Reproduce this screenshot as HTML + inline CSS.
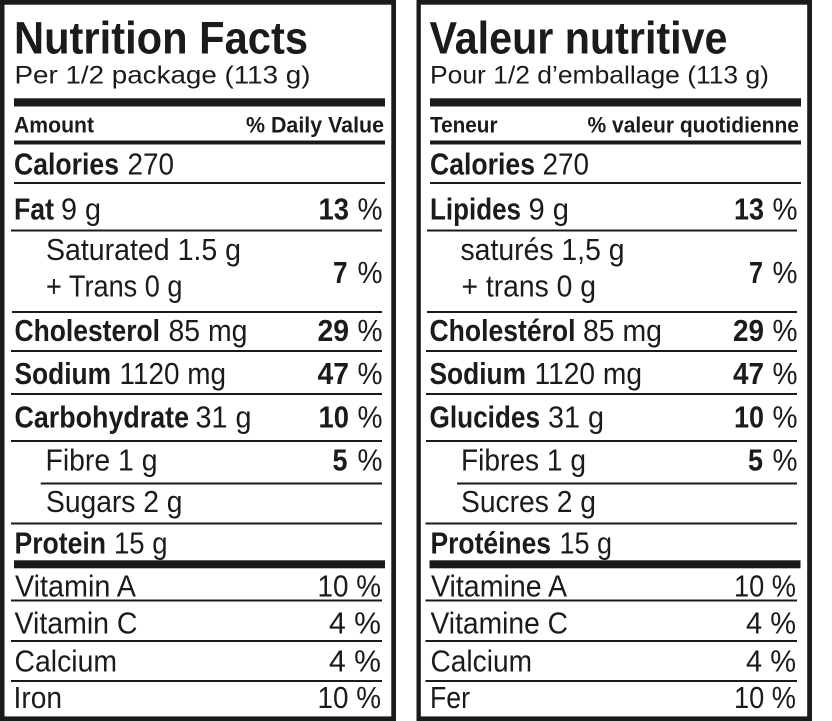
<!DOCTYPE html>
<html>
<head>
<meta charset="utf-8">
<style>
html,body{margin:0;padding:0;background:#fff;}
svg{display:block;}
text{font-family:"Liberation Sans",Arial,sans-serif;fill:#1b1b1b;}
.b{font-weight:bold;}
.t{font-size:45.5px;font-weight:bold;}
.s{font-size:25px;}
.h{font-size:22px;font-weight:bold;}
.n{font-size:31px;}
</style>
</head>
<body>
<svg width="832" height="721" viewBox="0 0 832 721" xmlns="http://www.w3.org/2000/svg">
<rect x="0" y="0" width="832" height="721" fill="#fff"/>
<g fill="#1a1a1a">
<!-- Left panel border -->
<rect x="0" y="0" width="396" height="4.7"/>
<rect x="0" y="716.4" width="396" height="4.6"/>
<rect x="0" y="0" width="4.5" height="721"/>
<rect x="391.3" y="0" width="4.7" height="721"/>
<!-- Right panel border -->
<rect x="416.5" y="0" width="395.5" height="4.7"/>
<rect x="416.5" y="716.4" width="395.5" height="4.6"/>
<rect x="416.5" y="0" width="4.3" height="721"/>
<rect x="807.2" y="0" width="4.8" height="721"/>

<!-- Left rules -->
<rect x="14" y="98.3" width="371" height="8.2"/>
<rect x="14" y="140.5" width="371" height="4"/>
<rect x="14" y="182" width="371" height="2"/>
<rect x="11" y="229.5" width="371" height="2"/>
<rect x="12" y="311" width="370" height="2"/>
<rect x="11" y="350" width="371" height="2"/>
<rect x="11" y="393" width="371" height="2"/>
<rect x="11" y="440" width="371" height="2"/>
<rect x="40.7" y="482.5" width="341.3" height="2"/>
<rect x="11" y="522.5" width="371" height="2"/>
<rect x="14" y="560.3" width="371" height="8"/>
<rect x="11" y="599.5" width="371" height="2"/>
<rect x="11" y="640" width="371" height="2"/>
<rect x="11" y="680" width="371" height="2"/>

<!-- Right rules -->
<rect x="430" y="98.3" width="371" height="8.2"/>
<rect x="430" y="140.5" width="371" height="4"/>
<rect x="430" y="182" width="371" height="2"/>
<rect x="427" y="229.5" width="370" height="2"/>
<rect x="427" y="311" width="370" height="2"/>
<rect x="426" y="350" width="371" height="2"/>
<rect x="426" y="393" width="371" height="2"/>
<rect x="426" y="440" width="371" height="2"/>
<rect x="457" y="482.5" width="340" height="2"/>
<rect x="425.5" y="522.5" width="371.5" height="2"/>
<rect x="429.5" y="560.3" width="371" height="8"/>
<rect x="425.5" y="599.5" width="371.5" height="2"/>
<rect x="425.5" y="640" width="371.5" height="2"/>
<rect x="425.5" y="680" width="371.5" height="2"/>
</g>

<!-- LEFT PANEL TEXT -->
<text class="t" x="14" y="53.3" textLength="294" lengthAdjust="spacingAndGlyphs">Nutrition Facts</text>
<text class="s" x="14.5" y="83.3" textLength="296" lengthAdjust="spacingAndGlyphs">Per 1/2 package (113 g)</text>
<text class="h" x="14" y="132.5" textLength="80" lengthAdjust="spacingAndGlyphs">Amount</text>
<text class="h" x="246" y="132.5" textLength="138" lengthAdjust="spacingAndGlyphs">% Daily Value</text>

<text class="n b" x="14" y="174.5" textLength="105" lengthAdjust="spacingAndGlyphs">Calories</text>
<text class="n" x="127.5" y="174.5" textLength="46.5" lengthAdjust="spacingAndGlyphs">270</text>

<text class="n b" x="14" y="219.5" textLength="40" lengthAdjust="spacingAndGlyphs">Fat</text>
<text class="n" x="61" y="219.5" textLength="40" lengthAdjust="spacingAndGlyphs">9 g</text>
<text class="n b" x="318.5" y="219.5" textLength="30.5" lengthAdjust="spacingAndGlyphs">13</text>
<text class="n" x="357.5" y="219.5" textLength="25" lengthAdjust="spacingAndGlyphs">%</text>

<text class="n" x="46" y="260" textLength="195" lengthAdjust="spacingAndGlyphs">Saturated 1.5 g</text>
<text class="n" x="46" y="296.5" textLength="136.5" lengthAdjust="spacingAndGlyphs">+ Trans 0 g</text>
<text class="n b" x="333" y="283" textLength="14.5" lengthAdjust="spacingAndGlyphs">7</text>
<text class="n" x="357.5" y="283" textLength="25" lengthAdjust="spacingAndGlyphs">%</text>

<text class="n b" x="14.5" y="341" textLength="145.5" lengthAdjust="spacingAndGlyphs">Cholesterol</text>
<text class="n" x="168.5" y="341" textLength="79" lengthAdjust="spacingAndGlyphs">85 mg</text>
<text class="n b" x="317.5" y="341" textLength="31.5" lengthAdjust="spacingAndGlyphs">29</text>
<text class="n" x="357.5" y="341" textLength="25" lengthAdjust="spacingAndGlyphs">%</text>

<text class="n b" x="14.5" y="384" textLength="96.5" lengthAdjust="spacingAndGlyphs">Sodium</text>
<text class="n" x="119.5" y="384" textLength="106.5" lengthAdjust="spacingAndGlyphs">1120 mg</text>
<text class="n b" x="317.5" y="384" textLength="31.5" lengthAdjust="spacingAndGlyphs">47</text>
<text class="n" x="357.5" y="384" textLength="25" lengthAdjust="spacingAndGlyphs">%</text>

<text class="n b" x="14.5" y="427.5" textLength="174.5" lengthAdjust="spacingAndGlyphs">Carbohydrate</text>
<text class="n" x="195.5" y="427.5" textLength="56" lengthAdjust="spacingAndGlyphs">31 g</text>
<text class="n b" x="318.5" y="427.5" textLength="30.5" lengthAdjust="spacingAndGlyphs">10</text>
<text class="n" x="357.5" y="427.5" textLength="25" lengthAdjust="spacingAndGlyphs">%</text>

<text class="n" x="45.5" y="470.5" textLength="112" lengthAdjust="spacingAndGlyphs">Fibre 1 g</text>
<text class="n b" x="332.5" y="470.5" textLength="15" lengthAdjust="spacingAndGlyphs">5</text>
<text class="n" x="357.5" y="470.5" textLength="25" lengthAdjust="spacingAndGlyphs">%</text>

<text class="n" x="46" y="512" textLength="136.5" lengthAdjust="spacingAndGlyphs">Sugars 2 g</text>

<text class="n b" x="14.5" y="553.5" textLength="91.5" lengthAdjust="spacingAndGlyphs">Protein</text>
<text class="n" x="114" y="553.5" textLength="53.5" lengthAdjust="spacingAndGlyphs">15 g</text>

<text class="n" x="15" y="596.5" textLength="121" lengthAdjust="spacingAndGlyphs">Vitamin A</text>
<text class="n" x="317.5" y="596.5" textLength="63.5" lengthAdjust="spacingAndGlyphs">10 %</text>

<text class="n" x="14.5" y="633.5" textLength="123" lengthAdjust="spacingAndGlyphs">Vitamin C</text>
<text class="n" x="329" y="633.5" textLength="52" lengthAdjust="spacingAndGlyphs">4 %</text>

<text class="n" x="14.5" y="671.5" textLength="102.5" lengthAdjust="spacingAndGlyphs">Calcium</text>
<text class="n" x="329" y="671.5" textLength="52" lengthAdjust="spacingAndGlyphs">4 %</text>

<text class="n" x="13.5" y="708" textLength="48.5" lengthAdjust="spacingAndGlyphs">Iron</text>
<text class="n" x="317.5" y="708" textLength="63.5" lengthAdjust="spacingAndGlyphs">10 %</text>

<!-- RIGHT PANEL TEXT -->
<text class="t" x="429.5" y="53.3" textLength="298" lengthAdjust="spacingAndGlyphs">Valeur nutritive</text>
<text class="s" x="430" y="83.3" textLength="339" lengthAdjust="spacingAndGlyphs">Pour 1/2 d’emballage (113 g)</text>
<text class="h" x="430" y="132.5" textLength="67.5" lengthAdjust="spacingAndGlyphs">Teneur</text>
<text class="h" x="587.5" y="132.5" textLength="211.5" lengthAdjust="spacingAndGlyphs">% valeur quotidienne</text>

<text class="n b" x="430" y="174.5" textLength="105" lengthAdjust="spacingAndGlyphs">Calories</text>
<text class="n" x="542.5" y="174.5" textLength="46.5" lengthAdjust="spacingAndGlyphs">270</text>

<text class="n b" x="430" y="219.5" textLength="91" lengthAdjust="spacingAndGlyphs">Lipides</text>
<text class="n" x="528.5" y="219.5" textLength="40.5" lengthAdjust="spacingAndGlyphs">9 g</text>
<text class="n b" x="734" y="219.5" textLength="30" lengthAdjust="spacingAndGlyphs">13</text>
<text class="n" x="772.5" y="219.5" textLength="25" lengthAdjust="spacingAndGlyphs">%</text>

<text class="n" x="460.5" y="260" textLength="164" lengthAdjust="spacingAndGlyphs">saturés 1,5 g</text>
<text class="n" x="461.5" y="296.5" textLength="134.5" lengthAdjust="spacingAndGlyphs">+ trans 0 g</text>
<text class="n b" x="749" y="283" textLength="14" lengthAdjust="spacingAndGlyphs">7</text>
<text class="n" x="772.5" y="283" textLength="25" lengthAdjust="spacingAndGlyphs">%</text>

<text class="n b" x="429.5" y="341" textLength="146" lengthAdjust="spacingAndGlyphs">Cholestérol</text>
<text class="n" x="583" y="341" textLength="79" lengthAdjust="spacingAndGlyphs">85 mg</text>
<text class="n b" x="733" y="341" textLength="31" lengthAdjust="spacingAndGlyphs">29</text>
<text class="n" x="772.5" y="341" textLength="25" lengthAdjust="spacingAndGlyphs">%</text>

<text class="n b" x="429.5" y="384" textLength="96.5" lengthAdjust="spacingAndGlyphs">Sodium</text>
<text class="n" x="534.5" y="384" textLength="107.5" lengthAdjust="spacingAndGlyphs">1120 mg</text>
<text class="n b" x="733" y="384" textLength="31" lengthAdjust="spacingAndGlyphs">47</text>
<text class="n" x="772.5" y="384" textLength="25" lengthAdjust="spacingAndGlyphs">%</text>

<text class="n b" x="429.5" y="427.5" textLength="110.5" lengthAdjust="spacingAndGlyphs">Glucides</text>
<text class="n" x="548" y="427.5" textLength="56" lengthAdjust="spacingAndGlyphs">31 g</text>
<text class="n b" x="734" y="427.5" textLength="30" lengthAdjust="spacingAndGlyphs">10</text>
<text class="n" x="772.5" y="427.5" textLength="25" lengthAdjust="spacingAndGlyphs">%</text>

<text class="n" x="461" y="470.5" textLength="125" lengthAdjust="spacingAndGlyphs">Fibres 1 g</text>
<text class="n b" x="748" y="470.5" textLength="15" lengthAdjust="spacingAndGlyphs">5</text>
<text class="n" x="772.5" y="470.5" textLength="25" lengthAdjust="spacingAndGlyphs">%</text>

<text class="n" x="461" y="512" textLength="135" lengthAdjust="spacingAndGlyphs">Sucres 2 g</text>

<text class="n b" x="430.5" y="553.5" textLength="120.5" lengthAdjust="spacingAndGlyphs">Protéines</text>
<text class="n" x="559.5" y="553.5" textLength="52.5" lengthAdjust="spacingAndGlyphs">15 g</text>

<text class="n" x="431" y="596.5" textLength="136" lengthAdjust="spacingAndGlyphs">Vitamine A</text>
<text class="n" x="734" y="596.5" textLength="62" lengthAdjust="spacingAndGlyphs">10 %</text>

<text class="n" x="430.5" y="633.5" textLength="137.5" lengthAdjust="spacingAndGlyphs">Vitamine C</text>
<text class="n" x="746" y="633.5" textLength="50" lengthAdjust="spacingAndGlyphs">4 %</text>

<text class="n" x="430.5" y="671.5" textLength="101.5" lengthAdjust="spacingAndGlyphs">Calcium</text>
<text class="n" x="746" y="671.5" textLength="50" lengthAdjust="spacingAndGlyphs">4 %</text>

<text class="n" x="430" y="708" textLength="40" lengthAdjust="spacingAndGlyphs">Fer</text>
<text class="n" x="734" y="708" textLength="62" lengthAdjust="spacingAndGlyphs">10 %</text>
</svg>
</body>
</html>
